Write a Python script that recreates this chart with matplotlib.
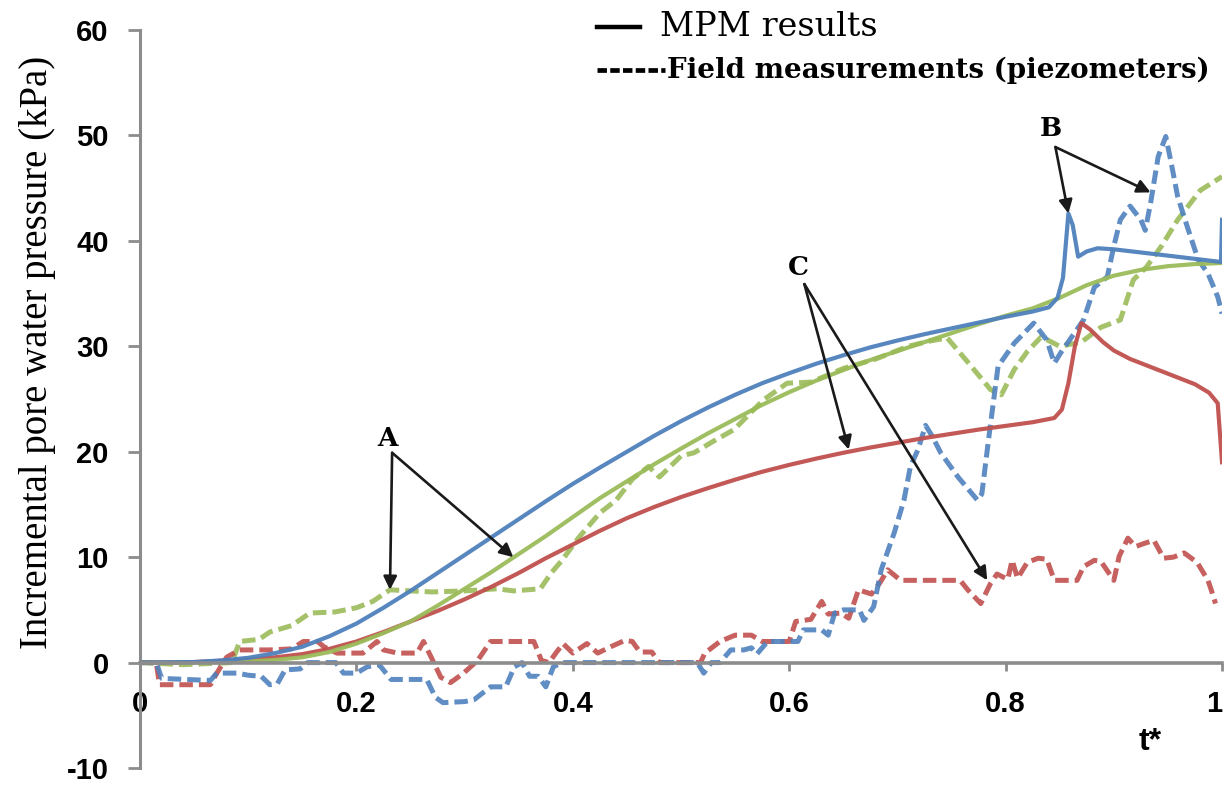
import numpy as np
import matplotlib.pyplot as plt
from matplotlib.lines import Line2D

plt.rcParams['axes.unicode_minus'] = False

# normalised time t* and incremental pore water pressure (kPa)
# MPM results (solid lines)
mpm_blue = [(0, 0), (0.05, 0.05), (0.075, 0.2), (0.1, 0.45), (0.125, 0.9), (0.15, 1.5),
            (0.175, 2.5), (0.2, 3.7), (0.225, 5.2), (0.25, 6.8), (0.275, 8.5),
            (0.3, 10.2), (0.325, 11.9), (0.35, 13.6), (0.375, 15.3), (0.4, 16.95),
            (0.425, 18.5), (0.45, 20.0), (0.475, 21.5), (0.5, 22.9), (0.525, 24.2),
            (0.55, 25.4), (0.575, 26.5), (0.6, 27.45), (0.625, 28.35), (0.65, 29.15),
            (0.675, 29.9), (0.7, 30.55), (0.725, 31.15), (0.75, 31.7), (0.775, 32.25),
            (0.8, 32.8), (0.825, 33.3), (0.84, 33.7), (0.848, 34.6), (0.853, 36.5),
            (0.858, 42.6), (0.862, 41.5), (0.867, 38.5), (0.875, 39.0), (0.885, 39.3),
            (0.9, 39.2), (0.95, 38.6), (0.999, 38.0), (1.0, 42.0)]
mpm_green = [(0, 0), (0.05, 0), (0.1, 0.1), (0.125, 0.25), (0.15, 0.5), (0.175, 1.0),
             (0.2, 1.8), (0.225, 2.8), (0.25, 3.9), (0.275, 5.4), (0.3, 7.0),
             (0.325, 8.6), (0.35, 10.3), (0.375, 12.0), (0.4, 13.8), (0.425, 15.6),
             (0.45, 17.2), (0.475, 18.8), (0.5, 20.3), (0.525, 21.75), (0.55, 23.1),
             (0.575, 24.45), (0.6, 25.65), (0.625, 26.75), (0.65, 27.75), (0.675, 28.7),
             (0.7, 29.55), (0.725, 30.4), (0.75, 31.25), (0.775, 32.1), (0.8, 32.9),
             (0.825, 33.6), (0.85, 34.6), (0.875, 35.8), (0.9, 36.7), (0.925, 37.25),
             (0.95, 37.6), (0.975, 37.8), (1.0, 37.9)]
mpm_red = [(0, 0), (0.05, 0.05), (0.1, 0.3), (0.125, 0.5), (0.15, 0.8), (0.175, 1.3),
           (0.2, 2.0), (0.225, 2.9), (0.25, 3.9), (0.275, 4.9), (0.3, 6.0),
           (0.325, 7.2), (0.35, 8.5), (0.375, 9.9), (0.4, 11.2), (0.425, 12.5),
           (0.45, 13.7), (0.475, 14.75), (0.5, 15.7), (0.525, 16.55), (0.55, 17.35),
           (0.575, 18.1), (0.6, 18.75), (0.625, 19.35), (0.65, 19.9), (0.675, 20.4),
           (0.7, 20.85), (0.725, 21.3), (0.75, 21.7), (0.775, 22.1), (0.8, 22.45),
           (0.825, 22.8), (0.845, 23.2), (0.852, 24.0), (0.858, 26.5), (0.864, 30.0),
           (0.87, 32.2), (0.878, 31.6), (0.89, 30.4), (0.9, 29.6), (0.915, 28.8),
           (0.93, 28.2), (0.945, 27.6), (0.96, 27.0), (0.975, 26.4), (0.988, 25.6),
           (0.996, 24.6), (1.0, 19.0)]

# field measurements, piezometers (dashed lines)
piezo_blue = [(0, 0), (0.015, 0), (0.02, -1.5), (0.065, -1.7), (0.071, -1.0), (0.09, -1.0),
              (0.1, -1.2), (0.112, -1.3), (0.12, -2.1), (0.127, -2.0), (0.134, -0.7),
              (0.148, -0.6), (0.155, 0), (0.181, 0), (0.188, -1.0), (0.2, -1.0),
              (0.21, -0.4), (0.221, -0.2), (0.232, -1.6), (0.265, -1.6), (0.273, -3.3),
              (0.28, -3.8), (0.3, -3.7), (0.309, -3.5), (0.324, -2.3), (0.338, -2.3),
              (0.346, -0.4), (0.353, 0), (0.36, -1.3), (0.368, -1.3), (0.375, -2.3),
              (0.382, -0.4), (0.39, 0), (0.5, 0), (0.515, 0), (0.521, -1.0), (0.528, 0),
              (0.536, 0), (0.546, 1.2), (0.558, 1.2), (0.565, 1.4), (0.57, 0.8),
              (0.58, 2.0), (0.608, 2.0), (0.613, 3.1), (0.63, 3.1), (0.636, 2.6),
              (0.642, 4.7), (0.65, 5.0), (0.665, 5.0), (0.669, 4.0), (0.678, 5.3),
              (0.685, 8.8), (0.697, 12.3), (0.706, 15.4), (0.712, 18.6), (0.719, 20.2),
              (0.726, 22.5), (0.732, 21.5), (0.74, 19.9), (0.756, 17.6), (0.774, 15.4),
              (0.778, 16.0), (0.785, 21.8), (0.793, 28.1), (0.808, 30.3), (0.826, 32.2),
              (0.838, 30.6), (0.845, 28.4), (0.851, 29.4), (0.872, 32.5), (0.882, 35.6),
              (0.894, 36.6), (0.9, 39.5), (0.906, 42.0), (0.915, 43.3), (0.925, 42.0),
              (0.929, 41.0), (0.934, 43.6), (0.941, 48.0), (0.948, 49.9), (0.953, 47.4),
              (0.959, 44.2), (0.968, 41.3), (0.978, 38.2), (0.987, 36.9), (0.996, 34.7),
              (1.0, 33.1)]
piezo_green = [(0, 0), (0.04, -0.2), (0.085, 0), (0.092, 2.0), (0.11, 2.2), (0.12, 2.9),
               (0.14, 3.5), (0.157, 4.7), (0.18, 4.8), (0.2, 5.2), (0.215, 5.8),
               (0.231, 6.9), (0.25, 6.8), (0.27, 6.7), (0.3, 6.8), (0.33, 7.0),
               (0.345, 6.8), (0.37, 7.0), (0.38, 8.5), (0.39, 9.7), (0.405, 11.8),
               (0.425, 14.2), (0.44, 15.4), (0.455, 17.4), (0.47, 18.6), (0.48, 17.6),
               (0.5, 19.6), (0.512, 19.9), (0.53, 21.0), (0.549, 22.1), (0.576, 24.9),
               (0.598, 26.5), (0.62, 26.6), (0.65, 27.9), (0.68, 28.8), (0.71, 30.0),
               (0.73, 30.5), (0.746, 30.8), (0.765, 28.5), (0.786, 25.9), (0.796, 25.4),
               (0.808, 27.8), (0.82, 29.5), (0.833, 30.9), (0.85, 30.0), (0.87, 30.4),
               (0.888, 31.8), (0.906, 32.5), (0.918, 36.3), (0.93, 37.5), (0.944, 39.5),
               (0.959, 42.0), (0.98, 44.8), (1.0, 46.1)]
piezo_red = [(0, 0), (0.015, 0), (0.018, -2.1), (0.065, -2.1), (0.071, -1.0), (0.08, 0.5),
             (0.092, 1.2), (0.12, 1.2), (0.14, 1.3), (0.151, 2.0), (0.164, 2.0),
             (0.17, 1.5), (0.182, 0.9), (0.206, 0.9), (0.219, 2.0), (0.225, 1.2),
             (0.238, 0.9), (0.256, 0.9), (0.262, 2.0), (0.271, 0.1), (0.278, -1.4),
             (0.287, -1.9), (0.299, -1.0), (0.312, 0.2), (0.324, 2.0), (0.364, 2.0),
             (0.371, 0.2), (0.378, 0), (0.385, 1.0), (0.391, 1.8), (0.4, 0.9),
             (0.413, 1.8), (0.423, 0.9), (0.435, 1.5), (0.448, 2.1), (0.455, 2.0),
             (0.462, 1.0), (0.473, 1.0), (0.48, 0), (0.518, 0), (0.522, 0.9),
             (0.536, 2.0), (0.55, 2.6), (0.565, 2.6), (0.575, 2.0), (0.6, 2.0),
             (0.606, 3.9), (0.62, 4.1), (0.63, 5.8), (0.636, 4.6), (0.648, 4.7),
             (0.655, 4.2), (0.664, 6.9), (0.676, 6.5), (0.684, 7.6), (0.691, 8.8),
             (0.703, 7.8), (0.758, 7.8), (0.765, 6.9), (0.777, 5.6), (0.786, 7.5),
             (0.792, 8.4), (0.802, 7.9), (0.806, 9.7), (0.811, 8.0), (0.82, 9.5),
             (0.83, 9.9), (0.838, 9.8), (0.845, 7.8), (0.866, 7.8), (0.872, 9.1),
             (0.882, 9.7), (0.888, 9.6), (0.9, 7.8), (0.905, 10.1), (0.913, 11.8),
             (0.92, 11.0), (0.928, 11.3), (0.937, 11.6), (0.946, 9.9), (0.955, 10.0),
             (0.965, 10.4), (0.977, 9.5), (0.987, 7.8), (0.99, 6.9), (0.994, 5.6)]

blue, green, red = '#4F81BD', '#9BBB59', '#C0504D'

fig = plt.figure(figsize=(12.24, 7.86), dpi=100)
ax = fig.add_axes([0.1144, 0.0229, 0.884, 0.9389])

dash = (2.7, 1.2)
for data, c in [(piezo_green, green), (piezo_red, red), (piezo_blue, blue)]:
    d = np.array(data)
    ax.plot(d[:, 0], d[:, 1], color=c, lw=3.6, dashes=dash, alpha=0.9)
for data, c in [(mpm_red, red), (mpm_green, green), (mpm_blue, blue)]:
    d = np.array(data)
    ax.plot(d[:, 0], d[:, 1], color=c, lw=3.0, alpha=0.95)

ax.set_xlim(0, 1)
ax.set_ylim(-10, 60)

# axes in the Excel look: grey left spine, x axis through zero
gray = '#8C8C8C'
for s in ['top', 'right']:
    ax.spines[s].set_visible(False)
ax.spines['left'].set_color(gray)
ax.spines['left'].set_linewidth(2.2)
ax.spines['bottom'].set_position(('data', 0))
ax.spines['bottom'].set_color(gray)
ax.spines['bottom'].set_linewidth(2.6)

ax.set_yticks(np.arange(-10, 61, 10))
ax.set_xticks([0, 0.2, 0.4, 0.6, 0.8, 1.0])
ax.set_xticklabels(['0', '0.2', '0.4', '0.6', '0.8', '1'])
ax.tick_params(axis='y', direction='out', length=8.5, width=2, color=gray, pad=14,
               labelsize=21)
ax.tick_params(axis='x', direction='out', length=6, width=2, color=gray, pad=14,
               labelsize=21)
for lab in ax.get_xticklabels() + ax.get_yticklabels():
    lab.set_fontfamily('Liberation Sans')
    lab.set_fontweight('bold')
ax.get_xticklabels()[-1].set_horizontalalignment('right')

fig.text(0.031, 0.552, 'Incremental pore water pressure (kPa)', rotation=90,
         ha='center', va='center', fontsize=28, family='Liberation Serif')
fig.text(0.9395, 0.056, 't*', ha='center', va='center', fontsize=23,
         family='Liberation Sans', fontweight='bold')

# labelled arrows
arrow = dict(arrowstyle='-|>', color='#1a1a1a', lw=1.9, mutation_scale=20,
             shrinkA=0, shrinkB=0)
notes = [('A', (0.229, 21.3), (0.233, 19.9), [(0.231, 6.9), (0.345, 10.0)]),
         ('B', (0.842, 50.7), (0.846, 48.9), [(0.858, 42.6), (0.934, 44.6)]),
         ('C', (0.608, 37.5), (0.614, 35.9), [(0.655, 20.2), (0.783, 7.8)])]
for name, pos, start, tips in notes:
    ax.text(pos[0], pos[1], name, ha='center', va='center', fontsize=19,
            family='DejaVu Serif', fontweight='bold')
    for tip in tips:
        ax.annotate('', xy=tip, xytext=start, arrowprops=arrow)

# key above the plot
fig.add_artist(Line2D([0.4877, 0.5229], [0.9656, 0.9656], color='black', lw=3.2,
                      transform=fig.transFigure))
fig.add_artist(Line2D([0.4877, 0.5433], [0.911, 0.911], color='black', lw=3.4,
                      dashes=(2.0, 0.7), transform=fig.transFigure))
fig.text(0.539, 0.9656, 'MPM results', ha='left', va='center', fontsize=24,
         family='DejaVu Serif')
fig.text(0.545, 0.911, 'Field measurements (piezometers)', ha='left', va='center',
         fontsize=20, family='DejaVu Serif', fontweight='bold')

fig.savefig('out.png', dpi=100)
